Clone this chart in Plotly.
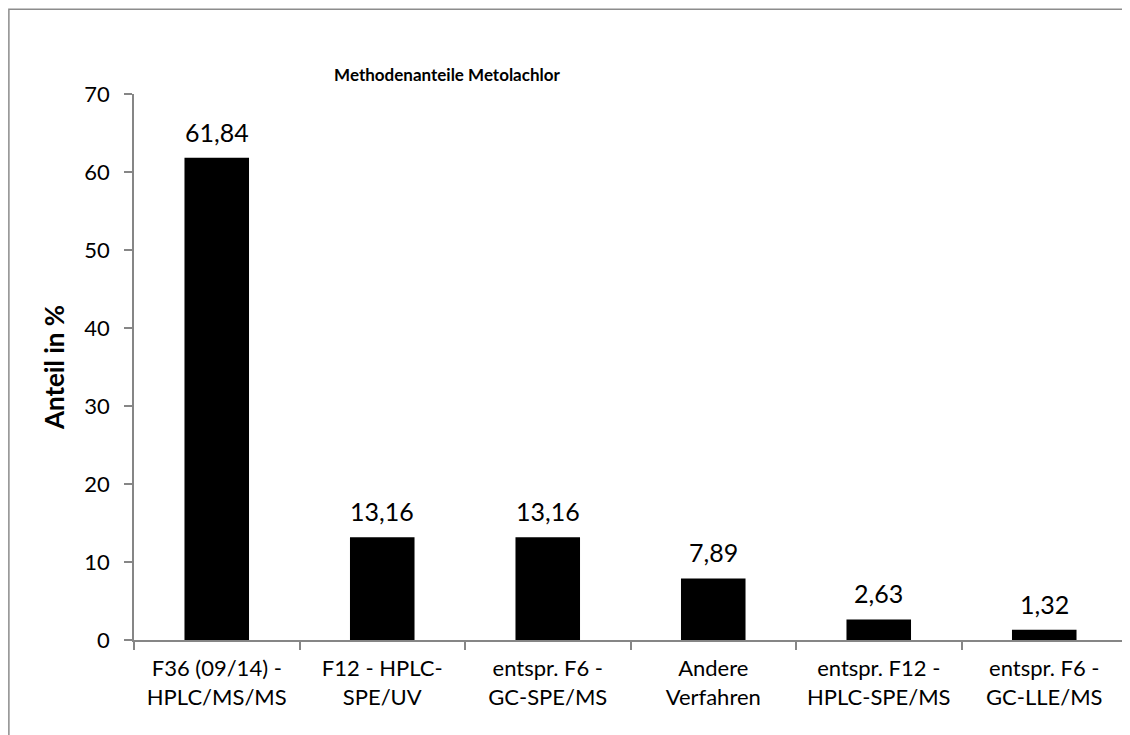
import plotly.graph_objects as go

# Data
categories = [
    "F36 (09/14) -<br>HPLC/MS/MS",
    "F12 - HPLC-<br>SPE/UV",
    "entspr. F6 -<br>GC-SPE/MS",
    "Andere<br>Verfahren",
    "entspr. F12 -<br>HPLC-SPE/MS",
    "entspr. F6 -<br>GC-LLE/MS",
]
anteile = [61.84, 13.16, 13.16, 7.89, 2.63, 1.32]

font_family = "Lato, Carlito, Calibri, sans-serif"
axis_gray = "#868686"

fig = go.Figure()

fig.add_trace(go.Bar(
    x=categories,
    y=anteile,
    marker=dict(color="black", line=dict(width=0)),
    showlegend=False,
))

# Data labels above bars
for cat, val in zip(categories, anteile):
    fig.add_annotation(
        x=cat, y=val,
        text=f"{val:.2f}".replace(".", ","),
        showarrow=False,
        yshift=26,
        font=dict(family=font_family, size=25, color="black"),
    )

# Outer chart frame (cropped at the window edges)
fig.add_shape(
    type="rect", xref="paper", yref="paper",
    x0=-0.126, x1=1.2, y0=-0.3, y1=1.155,
    line=dict(color="#8c8c8c", width=1.5),
    fillcolor="rgba(0,0,0,0)",
    layer="below",
)

fig.update_layout(
    width=1122,
    height=727,
    margin=dict(l=126, r=3, t=86, b=95),
    paper_bgcolor="white",
    plot_bgcolor="white",
    bargap=0.61,
    font=dict(family=font_family, size=22, color="black"),
    title=dict(
        text="<b>Methodenanteile Metolachlor</b>",
        x=439 / 1122, xanchor="center",
        y=1 - 67 / 727, yanchor="middle",
        font=dict(family=font_family, size=17, color="black"),
    ),
    xaxis=dict(
        range=[-0.5, 5.5],
        showline=True, linecolor=axis_gray, linewidth=1.5,
        ticks="outside", tickson="boundaries", ticklen=8,
        tickcolor=axis_gray, tickwidth=1.5,
        showgrid=False,
        tickfont=dict(size=22),
        ticklabelstandoff=8,
    ),
    yaxis=dict(
        range=[0, 70], dtick=10,
        showline=True, linecolor=axis_gray, linewidth=1.5,
        ticks="outside", ticklen=8, tickcolor=axis_gray, tickwidth=1.5,
        showgrid=False, zeroline=False,
        tickfont=dict(size=22),
        ticklabelstandoff=10,
        title=dict(text="<b>Anteil in %</b>", font=dict(size=26), standoff=12),
    ),
)

fig.write_html("out.html")
